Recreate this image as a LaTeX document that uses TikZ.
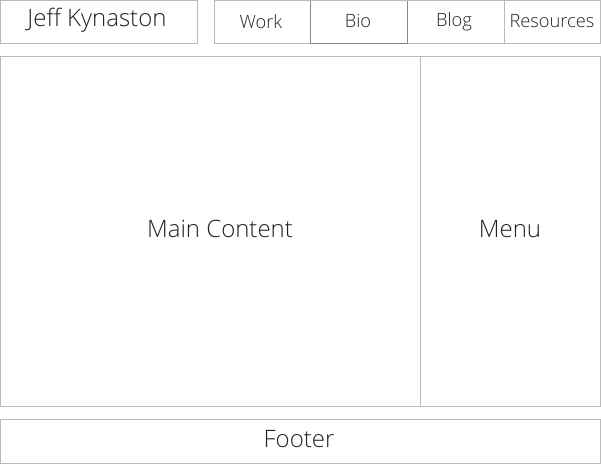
\documentclass[tikz,border=0pt]{standalone}
\usepackage{fontspec}
\setmainfont{Open Sans}[UprightFont=* Light]
\definecolor{linegray}{HTML}{BBBBBB}
\definecolor{tabgray}{HTML}{888888}
\definecolor{txt}{HTML}{222222}
\begin{document}
\begin{tikzpicture}[x=1pt,y=-1pt,
  boxx/.style={draw=linegray,line width=1pt},
  lbl/.style={text=txt,inner sep=0pt},
  navtxt/.style={lbl,font=\fontsize{18.3}{21}\selectfont},
  bigtxt/.style={lbl,font=\fontsize{24}{28}\selectfont}]
\useasboundingbox (0,0) rectangle (601,464);
\draw[boxx] (0.5,0.5) rectangle (197.5,43.5);
\node[bigtxt] (title) at (97,20) {Jeff Kynaston};
\draw[boxx] (214.5,0.5) rectangle (600.5,43.5);
\draw[draw=tabgray,line width=1pt] (310.5,0.5) -- (310.5,43.5) -- (407.5,43.5) -- (407.5,0.5);
\draw[boxx] (504.5,0.5) -- (504.5,43.5);
\node[navtxt] (work) at (261,22) {Work};
\node[navtxt] (bio) at (358,21) {Bio};
\node[navtxt] (blog) at (454,22) {Blog};
\node[navtxt] (res) at (552,21) {Resources};
\draw[boxx] (0.5,56.5) rectangle (600.5,406.5);
\draw[boxx] (420.5,56.5) -- (420.5,406.5);
\node[bigtxt] (main) at (220,229) {Main Content};
\node[bigtxt] (menu) at (510,229) {Menu};
\draw[boxx] (0.5,419.5) rectangle (600.5,463);
\node[bigtxt] (footer) at (299,439) {Footer};
\end{tikzpicture}
\end{document}
